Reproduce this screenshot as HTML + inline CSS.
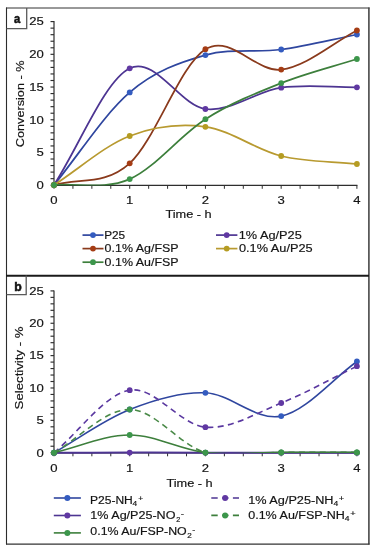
<!DOCTYPE html><html><head><meta charset="utf-8"><style>html,body{margin:0;padding:0;background:#fff;}svg{display:block;}text{font-family:"Liberation Sans", sans-serif;filter:grayscale(1);stroke:#141414;stroke-width:0.18px;}</style></head><body>
<svg width="376" height="550" viewBox="0 0 376 550">
<rect width="376" height="550" fill="#fff"/>
<defs><clipPath id="ca"><rect x="40" y="10" width="330" height="175.40"/></clipPath><clipPath id="cb"><rect x="40" y="280" width="330" height="173.10"/></clipPath></defs>
<line x1="50.5" y1="185.20" x2="54" y2="185.20" stroke="#2e2e2e" stroke-width="1.15"/>
<line x1="50.5" y1="178.66" x2="54" y2="178.66" stroke="#2e2e2e" stroke-width="1.15"/>
<line x1="50.5" y1="172.11" x2="54" y2="172.11" stroke="#2e2e2e" stroke-width="1.15"/>
<line x1="50.5" y1="165.57" x2="54" y2="165.57" stroke="#2e2e2e" stroke-width="1.15"/>
<line x1="50.5" y1="159.02" x2="54" y2="159.02" stroke="#2e2e2e" stroke-width="1.15"/>
<line x1="50.5" y1="152.48" x2="54" y2="152.48" stroke="#2e2e2e" stroke-width="1.15"/>
<line x1="50.5" y1="145.94" x2="54" y2="145.94" stroke="#2e2e2e" stroke-width="1.15"/>
<line x1="50.5" y1="139.39" x2="54" y2="139.39" stroke="#2e2e2e" stroke-width="1.15"/>
<line x1="50.5" y1="132.85" x2="54" y2="132.85" stroke="#2e2e2e" stroke-width="1.15"/>
<line x1="50.5" y1="126.30" x2="54" y2="126.30" stroke="#2e2e2e" stroke-width="1.15"/>
<line x1="50.5" y1="119.76" x2="54" y2="119.76" stroke="#2e2e2e" stroke-width="1.15"/>
<line x1="50.5" y1="113.22" x2="54" y2="113.22" stroke="#2e2e2e" stroke-width="1.15"/>
<line x1="50.5" y1="106.67" x2="54" y2="106.67" stroke="#2e2e2e" stroke-width="1.15"/>
<line x1="50.5" y1="100.13" x2="54" y2="100.13" stroke="#2e2e2e" stroke-width="1.15"/>
<line x1="50.5" y1="93.58" x2="54" y2="93.58" stroke="#2e2e2e" stroke-width="1.15"/>
<line x1="50.5" y1="87.04" x2="54" y2="87.04" stroke="#2e2e2e" stroke-width="1.15"/>
<line x1="50.5" y1="80.50" x2="54" y2="80.50" stroke="#2e2e2e" stroke-width="1.15"/>
<line x1="50.5" y1="73.95" x2="54" y2="73.95" stroke="#2e2e2e" stroke-width="1.15"/>
<line x1="50.5" y1="67.41" x2="54" y2="67.41" stroke="#2e2e2e" stroke-width="1.15"/>
<line x1="50.5" y1="60.86" x2="54" y2="60.86" stroke="#2e2e2e" stroke-width="1.15"/>
<line x1="50.5" y1="54.32" x2="54" y2="54.32" stroke="#2e2e2e" stroke-width="1.15"/>
<line x1="50.5" y1="47.78" x2="54" y2="47.78" stroke="#2e2e2e" stroke-width="1.15"/>
<line x1="50.5" y1="41.23" x2="54" y2="41.23" stroke="#2e2e2e" stroke-width="1.15"/>
<line x1="50.5" y1="34.69" x2="54" y2="34.69" stroke="#2e2e2e" stroke-width="1.15"/>
<line x1="50.5" y1="28.14" x2="54" y2="28.14" stroke="#2e2e2e" stroke-width="1.15"/>
<line x1="50.5" y1="21.60" x2="54" y2="21.60" stroke="#2e2e2e" stroke-width="1.15"/>
<line x1="54.0" y1="21.10" x2="54.0" y2="185.70" stroke="#2e2e2e" stroke-width="1.2"/>
<line x1="54.00" y1="185.20" x2="54.00" y2="188.80" stroke="#2e2e2e" stroke-width="1"/>
<line x1="72.93" y1="185.20" x2="72.93" y2="188.80" stroke="#2e2e2e" stroke-width="1"/>
<line x1="91.86" y1="185.20" x2="91.86" y2="188.80" stroke="#2e2e2e" stroke-width="1"/>
<line x1="110.79" y1="185.20" x2="110.79" y2="188.80" stroke="#2e2e2e" stroke-width="1"/>
<line x1="129.72" y1="185.20" x2="129.72" y2="188.80" stroke="#2e2e2e" stroke-width="1"/>
<line x1="148.66" y1="185.20" x2="148.66" y2="188.80" stroke="#2e2e2e" stroke-width="1"/>
<line x1="167.59" y1="185.20" x2="167.59" y2="188.80" stroke="#2e2e2e" stroke-width="1"/>
<line x1="186.52" y1="185.20" x2="186.52" y2="188.80" stroke="#2e2e2e" stroke-width="1"/>
<line x1="205.45" y1="185.20" x2="205.45" y2="188.80" stroke="#2e2e2e" stroke-width="1"/>
<line x1="224.38" y1="185.20" x2="224.38" y2="188.80" stroke="#2e2e2e" stroke-width="1"/>
<line x1="243.31" y1="185.20" x2="243.31" y2="188.80" stroke="#2e2e2e" stroke-width="1"/>
<line x1="262.24" y1="185.20" x2="262.24" y2="188.80" stroke="#2e2e2e" stroke-width="1"/>
<line x1="281.17" y1="185.20" x2="281.17" y2="188.80" stroke="#2e2e2e" stroke-width="1"/>
<line x1="300.11" y1="185.20" x2="300.11" y2="188.80" stroke="#2e2e2e" stroke-width="1"/>
<line x1="319.04" y1="185.20" x2="319.04" y2="188.80" stroke="#2e2e2e" stroke-width="1"/>
<line x1="337.97" y1="185.20" x2="337.97" y2="188.80" stroke="#2e2e2e" stroke-width="1"/>
<line x1="356.90" y1="185.20" x2="356.90" y2="188.80" stroke="#2e2e2e" stroke-width="1"/>
<line x1="53" y1="185.40" x2="357.40" y2="185.40" stroke="#2e2e2e" stroke-width="1.1"/>
<text transform="translate(36.424,189.000) scale(1.1200,1)" font-size="11.7" fill="#141414">0</text>
<text transform="translate(36.462,156.280) scale(1.1200,1)" font-size="11.7" fill="#141414">5</text>
<text transform="translate(29.136,123.560) scale(1.1200,1)" font-size="11.7" fill="#141414">10</text>
<text transform="translate(29.175,90.840) scale(1.1200,1)" font-size="11.7" fill="#141414">15</text>
<text transform="translate(29.136,58.120) scale(1.1200,1)" font-size="11.7" fill="#141414">20</text>
<text transform="translate(29.175,25.400) scale(1.1200,1)" font-size="11.7" fill="#141414">25</text>
<text transform="translate(50.356,203.800) scale(1.1200,1)" font-size="11.7" fill="#141414">0</text>
<text transform="translate(125.877,203.800) scale(1.1200,1)" font-size="11.7" fill="#141414">1</text>
<text transform="translate(201.756,203.800) scale(1.1200,1)" font-size="11.7" fill="#141414">2</text>
<text transform="translate(277.594,203.800) scale(1.1200,1)" font-size="11.7" fill="#141414">3</text>
<text transform="translate(353.298,203.800) scale(1.1200,1)" font-size="11.7" fill="#141414">4</text>
<text transform="translate(165.413,217.700) scale(1.0912,1)" font-size="11.7" fill="#141414">Time - h</text>
<text transform="translate(23.500,146.500) rotate(-90) translate(-0.645,0) scale(1.0852,1)" font-size="11.7" fill="#141414">Conversion - %</text>
<path d="M54.00,185.00 C79.23,154.13 104.47,114.05 129.70,92.40 C154.93,70.75 180.15,62.25 205.40,55.10 C230.65,47.95 255.95,52.93 281.20,49.50 C306.45,46.07 331.67,39.50 356.90,34.50" fill="none" stroke="#2f469f" stroke-width="1.75" clip-path="url(#ca)"/>
<circle cx="54.00" cy="185.00" r="2.9" fill="#345cc0"/>
<circle cx="129.70" cy="92.40" r="2.9" fill="#345cc0"/>
<circle cx="205.40" cy="55.10" r="2.9" fill="#345cc0"/>
<circle cx="281.20" cy="49.50" r="2.9" fill="#345cc0"/>
<circle cx="356.90" cy="34.50" r="2.9" fill="#345cc0"/>
<path d="M54.00,185.00 C79.23,146.10 104.47,80.97 129.70,68.30 C154.93,55.63 180.15,105.77 205.40,109.00 C230.65,112.23 255.95,91.32 281.20,87.70 C306.45,84.08 331.67,87.43 356.90,87.30" fill="none" stroke="#4d3592" stroke-width="1.75" clip-path="url(#ca)"/>
<circle cx="54.00" cy="185.00" r="2.9" fill="#6038a2"/>
<circle cx="129.70" cy="68.30" r="2.9" fill="#6038a2"/>
<circle cx="205.40" cy="109.00" r="2.9" fill="#6038a2"/>
<circle cx="281.20" cy="87.70" r="2.9" fill="#6038a2"/>
<circle cx="356.90" cy="87.30" r="2.9" fill="#6038a2"/>
<path d="M54.00,185.00 C79.23,177.77 104.47,185.93 129.70,163.30 C154.93,140.67 180.15,64.82 205.40,49.20 C230.65,33.58 255.95,72.72 281.20,69.60 C306.45,66.48 331.67,43.53 356.90,30.50" fill="none" stroke="#8a3a1c" stroke-width="1.75" clip-path="url(#ca)"/>
<circle cx="54.00" cy="185.00" r="2.9" fill="#a53c14"/>
<circle cx="129.70" cy="163.30" r="2.9" fill="#a53c14"/>
<circle cx="205.40" cy="49.20" r="2.9" fill="#a53c14"/>
<circle cx="281.20" cy="69.60" r="2.9" fill="#a53c14"/>
<circle cx="356.90" cy="30.50" r="2.9" fill="#a53c14"/>
<path d="M54.00,185.00 C79.23,168.67 104.47,145.70 129.70,136.00 C154.93,126.30 180.15,123.47 205.40,126.80 C230.65,130.13 255.95,149.80 281.20,156.00 C306.45,162.20 331.67,161.33 356.90,164.00" fill="none" stroke="#b89a30" stroke-width="1.75" clip-path="url(#ca)"/>
<circle cx="54.00" cy="185.00" r="2.9" fill="#b59c22"/>
<circle cx="129.70" cy="136.00" r="2.9" fill="#b59c22"/>
<circle cx="205.40" cy="126.80" r="2.9" fill="#b59c22"/>
<circle cx="281.20" cy="156.00" r="2.9" fill="#b59c22"/>
<circle cx="356.90" cy="164.00" r="2.9" fill="#b59c22"/>
<path d="M54.00,185.00 C79.23,183.03 104.47,190.07 129.70,179.10 C154.93,168.13 180.15,135.20 205.40,119.20 C230.65,103.20 255.95,93.13 281.20,83.10 C306.45,73.07 331.67,67.03 356.90,59.00" fill="none" stroke="#3d7f3c" stroke-width="1.75" clip-path="url(#ca)"/>
<circle cx="54.00" cy="185.00" r="2.9" fill="#3c964b"/>
<circle cx="129.70" cy="179.10" r="2.9" fill="#3c964b"/>
<circle cx="205.40" cy="119.20" r="2.9" fill="#3c964b"/>
<circle cx="281.20" cy="83.10" r="2.9" fill="#3c964b"/>
<circle cx="356.90" cy="59.00" r="2.9" fill="#3c964b"/>
<line x1="82.50" y1="235.10" x2="103.50" y2="235.10" stroke="#2f469f" stroke-width="1.7"/>
<circle cx="93.00" cy="235.10" r="2.9" fill="#345cc0"/>
<line x1="82.50" y1="248.60" x2="103.50" y2="248.60" stroke="#8a3a1c" stroke-width="1.7"/>
<circle cx="93.00" cy="248.60" r="2.9" fill="#a53c14"/>
<line x1="82.50" y1="262.20" x2="103.50" y2="262.20" stroke="#3d7f3c" stroke-width="1.7"/>
<circle cx="93.00" cy="262.20" r="2.9" fill="#3c964b"/>
<line x1="216.00" y1="235.10" x2="237.40" y2="235.10" stroke="#4d3592" stroke-width="1.7"/>
<circle cx="226.70" cy="235.10" r="2.9" fill="#6038a2"/>
<line x1="216.00" y1="248.60" x2="237.40" y2="248.60" stroke="#b89a30" stroke-width="1.7"/>
<circle cx="226.70" cy="248.60" r="2.9" fill="#b59c22"/>
<text transform="translate(104.129,238.700) scale(1.0120,1)" font-size="11.7" fill="#141414">P25</text>
<text transform="translate(104.614,252.300) scale(1.0642,1)" font-size="11.7" fill="#141414">0.1% Ag/FSP</text>
<text transform="translate(104.614,265.900) scale(1.0642,1)" font-size="11.7" fill="#141414">0.1% Au/FSP</text>
<text transform="translate(238.729,238.700) scale(1.0900,1)" font-size="11.7" fill="#141414">1% Ag/P25</text>
<text transform="translate(239.002,252.300) scale(1.0898,1)" font-size="11.7" fill="#141414">0.1% Au/P25</text>
<line x1="50.5" y1="452.70" x2="54" y2="452.70" stroke="#2e2e2e" stroke-width="1.15"/>
<line x1="50.5" y1="446.23" x2="54" y2="446.23" stroke="#2e2e2e" stroke-width="1.15"/>
<line x1="50.5" y1="439.76" x2="54" y2="439.76" stroke="#2e2e2e" stroke-width="1.15"/>
<line x1="50.5" y1="433.28" x2="54" y2="433.28" stroke="#2e2e2e" stroke-width="1.15"/>
<line x1="50.5" y1="426.81" x2="54" y2="426.81" stroke="#2e2e2e" stroke-width="1.15"/>
<line x1="50.5" y1="420.34" x2="54" y2="420.34" stroke="#2e2e2e" stroke-width="1.15"/>
<line x1="50.5" y1="413.87" x2="54" y2="413.87" stroke="#2e2e2e" stroke-width="1.15"/>
<line x1="50.5" y1="407.40" x2="54" y2="407.40" stroke="#2e2e2e" stroke-width="1.15"/>
<line x1="50.5" y1="400.92" x2="54" y2="400.92" stroke="#2e2e2e" stroke-width="1.15"/>
<line x1="50.5" y1="394.45" x2="54" y2="394.45" stroke="#2e2e2e" stroke-width="1.15"/>
<line x1="50.5" y1="387.98" x2="54" y2="387.98" stroke="#2e2e2e" stroke-width="1.15"/>
<line x1="50.5" y1="381.51" x2="54" y2="381.51" stroke="#2e2e2e" stroke-width="1.15"/>
<line x1="50.5" y1="375.04" x2="54" y2="375.04" stroke="#2e2e2e" stroke-width="1.15"/>
<line x1="50.5" y1="368.56" x2="54" y2="368.56" stroke="#2e2e2e" stroke-width="1.15"/>
<line x1="50.5" y1="362.09" x2="54" y2="362.09" stroke="#2e2e2e" stroke-width="1.15"/>
<line x1="50.5" y1="355.62" x2="54" y2="355.62" stroke="#2e2e2e" stroke-width="1.15"/>
<line x1="50.5" y1="349.15" x2="54" y2="349.15" stroke="#2e2e2e" stroke-width="1.15"/>
<line x1="50.5" y1="342.68" x2="54" y2="342.68" stroke="#2e2e2e" stroke-width="1.15"/>
<line x1="50.5" y1="336.20" x2="54" y2="336.20" stroke="#2e2e2e" stroke-width="1.15"/>
<line x1="50.5" y1="329.73" x2="54" y2="329.73" stroke="#2e2e2e" stroke-width="1.15"/>
<line x1="50.5" y1="323.26" x2="54" y2="323.26" stroke="#2e2e2e" stroke-width="1.15"/>
<line x1="50.5" y1="316.79" x2="54" y2="316.79" stroke="#2e2e2e" stroke-width="1.15"/>
<line x1="50.5" y1="310.32" x2="54" y2="310.32" stroke="#2e2e2e" stroke-width="1.15"/>
<line x1="50.5" y1="303.84" x2="54" y2="303.84" stroke="#2e2e2e" stroke-width="1.15"/>
<line x1="50.5" y1="297.37" x2="54" y2="297.37" stroke="#2e2e2e" stroke-width="1.15"/>
<line x1="50.5" y1="290.90" x2="54" y2="290.90" stroke="#2e2e2e" stroke-width="1.15"/>
<line x1="54.0" y1="290.40" x2="54.0" y2="453.20" stroke="#2e2e2e" stroke-width="1.2"/>
<line x1="54.00" y1="452.70" x2="54.00" y2="456.30" stroke="#2e2e2e" stroke-width="1"/>
<line x1="72.93" y1="452.70" x2="72.93" y2="456.30" stroke="#2e2e2e" stroke-width="1"/>
<line x1="91.86" y1="452.70" x2="91.86" y2="456.30" stroke="#2e2e2e" stroke-width="1"/>
<line x1="110.79" y1="452.70" x2="110.79" y2="456.30" stroke="#2e2e2e" stroke-width="1"/>
<line x1="129.72" y1="452.70" x2="129.72" y2="456.30" stroke="#2e2e2e" stroke-width="1"/>
<line x1="148.66" y1="452.70" x2="148.66" y2="456.30" stroke="#2e2e2e" stroke-width="1"/>
<line x1="167.59" y1="452.70" x2="167.59" y2="456.30" stroke="#2e2e2e" stroke-width="1"/>
<line x1="186.52" y1="452.70" x2="186.52" y2="456.30" stroke="#2e2e2e" stroke-width="1"/>
<line x1="205.45" y1="452.70" x2="205.45" y2="456.30" stroke="#2e2e2e" stroke-width="1"/>
<line x1="224.38" y1="452.70" x2="224.38" y2="456.30" stroke="#2e2e2e" stroke-width="1"/>
<line x1="243.31" y1="452.70" x2="243.31" y2="456.30" stroke="#2e2e2e" stroke-width="1"/>
<line x1="262.24" y1="452.70" x2="262.24" y2="456.30" stroke="#2e2e2e" stroke-width="1"/>
<line x1="281.17" y1="452.70" x2="281.17" y2="456.30" stroke="#2e2e2e" stroke-width="1"/>
<line x1="300.11" y1="452.70" x2="300.11" y2="456.30" stroke="#2e2e2e" stroke-width="1"/>
<line x1="319.04" y1="452.70" x2="319.04" y2="456.30" stroke="#2e2e2e" stroke-width="1"/>
<line x1="337.97" y1="452.70" x2="337.97" y2="456.30" stroke="#2e2e2e" stroke-width="1"/>
<line x1="356.90" y1="452.70" x2="356.90" y2="456.30" stroke="#2e2e2e" stroke-width="1"/>
<line x1="53" y1="452.90" x2="357.40" y2="452.90" stroke="#2e2e2e" stroke-width="1.1"/>
<text transform="translate(36.424,456.500) scale(1.1200,1)" font-size="11.7" fill="#141414">0</text>
<text transform="translate(36.462,424.140) scale(1.1200,1)" font-size="11.7" fill="#141414">5</text>
<text transform="translate(29.136,391.780) scale(1.1200,1)" font-size="11.7" fill="#141414">10</text>
<text transform="translate(29.175,359.420) scale(1.1200,1)" font-size="11.7" fill="#141414">15</text>
<text transform="translate(29.136,327.060) scale(1.1200,1)" font-size="11.7" fill="#141414">20</text>
<text transform="translate(29.175,294.700) scale(1.1200,1)" font-size="11.7" fill="#141414">25</text>
<text transform="translate(50.356,471.800) scale(1.1200,1)" font-size="11.7" fill="#141414">0</text>
<text transform="translate(125.877,471.800) scale(1.1200,1)" font-size="11.7" fill="#141414">1</text>
<text transform="translate(201.756,471.800) scale(1.1200,1)" font-size="11.7" fill="#141414">2</text>
<text transform="translate(277.594,471.800) scale(1.1200,1)" font-size="11.7" fill="#141414">3</text>
<text transform="translate(353.298,471.800) scale(1.1200,1)" font-size="11.7" fill="#141414">4</text>
<text transform="translate(166.413,487.100) scale(1.0912,1)" font-size="11.7" fill="#141414">Time - h</text>
<text transform="translate(22.700,408.800) rotate(-90) translate(-0.601,0) scale(1.1307,1)" font-size="11.7" fill="#141414">Selectivity - %</text>
<path d="M54.00,452.70 C79.23,438.30 104.47,419.48 129.70,409.50 C154.93,399.52 180.15,391.70 205.40,392.80 C230.65,393.90 255.95,421.32 281.20,416.10 C306.45,410.88 331.67,379.70 356.90,361.50" fill="none" stroke="#2f469f" stroke-width="1.6" clip-path="url(#cb)"/>
<circle cx="54.00" cy="452.70" r="2.9" fill="#345cc0"/>
<circle cx="129.70" cy="409.50" r="2.9" fill="#345cc0"/>
<circle cx="205.40" cy="392.80" r="2.9" fill="#345cc0"/>
<circle cx="281.20" cy="416.10" r="2.9" fill="#345cc0"/>
<circle cx="356.90" cy="361.50" r="2.9" fill="#345cc0"/>
<path d="M54.00,452.70 C79.23,431.87 104.47,394.45 129.70,390.20 C154.93,385.95 180.15,425.07 205.40,427.20 C230.65,429.33 255.95,413.17 281.20,403.00 C306.45,392.83 331.67,378.47 356.90,366.20" fill="none" stroke="#5a38a0" stroke-width="1.6" stroke-dasharray="6,4.4" clip-path="url(#cb)"/>
<circle cx="54.00" cy="452.70" r="2.9" fill="#6038a2"/>
<circle cx="129.70" cy="390.20" r="2.9" fill="#6038a2"/>
<circle cx="205.40" cy="427.20" r="2.9" fill="#6038a2"/>
<circle cx="281.20" cy="403.00" r="2.9" fill="#6038a2"/>
<circle cx="356.90" cy="366.20" r="2.9" fill="#6038a2"/>
<path d="M54.00,452.80 C79.23,452.73 104.47,452.62 129.70,452.60 C154.93,452.58 180.15,452.68 205.40,452.70 C230.65,452.72 255.95,452.70 281.20,452.70 C306.45,452.70 331.67,452.70 356.90,452.70" fill="none" stroke="#4d3592" stroke-width="2.0"/>
<circle cx="54.00" cy="452.80" r="2.9" fill="#6038a2"/>
<circle cx="129.70" cy="452.60" r="2.9" fill="#6038a2"/>
<circle cx="205.40" cy="452.70" r="2.9" fill="#6038a2"/>
<circle cx="281.20" cy="452.70" r="2.9" fill="#6038a2"/>
<circle cx="356.90" cy="452.70" r="2.9" fill="#6038a2"/>
<path d="M54.00,452.70 C79.23,438.30 104.47,409.52 129.70,409.50 C154.93,409.48 180.15,445.45 205.40,452.60 C230.65,459.75 255.95,452.43 281.20,452.40 C306.45,452.37 331.67,452.40 356.90,452.40" fill="none" stroke="#4a8a48" stroke-width="1.6" stroke-dasharray="6,4.4" clip-path="url(#cb)"/>
<circle cx="54.00" cy="452.70" r="2.9" fill="#3c964b"/>
<circle cx="129.70" cy="409.50" r="2.9" fill="#3c964b"/>
<circle cx="205.40" cy="452.60" r="2.9" fill="#3c964b"/>
<circle cx="281.20" cy="452.40" r="2.9" fill="#3c964b"/>
<circle cx="356.90" cy="452.40" r="2.9" fill="#3c964b"/>
<path d="M54.00,452.70 C79.23,446.80 104.47,435.02 129.70,435.00 C154.93,434.98 180.15,449.70 205.40,452.60 C230.65,455.50 255.95,452.43 281.20,452.40 C306.45,452.37 331.67,452.40 356.90,452.40" fill="none" stroke="#3d7f3c" stroke-width="1.6" clip-path="url(#cb)"/>
<circle cx="54.00" cy="452.70" r="2.9" fill="#3c964b"/>
<circle cx="129.70" cy="435.00" r="2.9" fill="#3c964b"/>
<circle cx="205.40" cy="452.60" r="2.9" fill="#3c964b"/>
<circle cx="281.20" cy="452.40" r="2.9" fill="#3c964b"/>
<circle cx="356.90" cy="452.40" r="2.9" fill="#3c964b"/>
<line x1="53.80" y1="498.00" x2="80.90" y2="498.00" stroke="#2f469f" stroke-width="1.6"/>
<circle cx="67.35" cy="498.00" r="3" fill="#345cc0"/>
<line x1="53.80" y1="515.50" x2="80.90" y2="515.50" stroke="#4d3592" stroke-width="1.6"/>
<circle cx="67.35" cy="515.50" r="3" fill="#6038a2"/>
<line x1="53.80" y1="532.90" x2="80.90" y2="532.90" stroke="#3d7f3c" stroke-width="1.6"/>
<circle cx="67.35" cy="532.90" r="3" fill="#3c964b"/>
<line x1="211.30" y1="498.00" x2="239.00" y2="498.00" stroke="#4d3592" stroke-width="1.6" stroke-dasharray="6.4,4.4"/>
<circle cx="225.15" cy="498.00" r="3" fill="#6038a2"/>
<line x1="211.30" y1="515.40" x2="239.00" y2="515.40" stroke="#3d7f3c" stroke-width="1.6" stroke-dasharray="6.4,4.4"/>
<circle cx="225.15" cy="515.40" r="3" fill="#3c964b"/>
<text transform="translate(89.909,503.600) scale(1.0328,1)" font-size="11.7" fill="#141414">P25-NH</text>
<text transform="translate(132.609,505.800) scale(1.0967,1)" font-size="7.6" fill="#141414">4</text>
<text transform="translate(138.188,500.900) scale(1.1104,1)" font-size="7.6" fill="#141414">+</text>
<text transform="translate(90.343,519.300) scale(1.0734,1)" font-size="11.7" fill="#141414">1% Ag/P25-NO</text>
<text transform="translate(176.236,522.400) scale(0.9531,1)" font-size="7.6" fill="#141414">2</text>
<text transform="translate(180.663,516.000) scale(1.2935,1)" font-size="7.6" fill="#141414">-</text>
<text transform="translate(90.316,534.900) scale(1.0600,1)" font-size="11.7" fill="#141414">0.1% Au/FSP-NO</text>
<text transform="translate(187.292,538.000) scale(1.0687,1)" font-size="7.6" fill="#141414">2</text>
<text transform="translate(192.300,531.800) scale(1.1857,1)" font-size="7.6" fill="#141414">-</text>
<text transform="translate(248.233,503.600) scale(1.0853,1)" font-size="11.7" fill="#141414">1% Ag/P25-NH</text>
<text transform="translate(333.604,505.600) scale(1.1228,1)" font-size="7.6" fill="#141414">4</text>
<text transform="translate(338.648,500.900) scale(1.2187,1)" font-size="7.6" fill="#141414">+</text>
<text transform="translate(248.210,518.900) scale(1.0712,1)" font-size="11.7" fill="#141414">0.1% Au/FSP-NH</text>
<text transform="translate(344.804,521.200) scale(1.1228,1)" font-size="7.6" fill="#141414">4</text>
<text transform="translate(350.148,516.300) scale(1.2187,1)" font-size="7.6" fill="#141414">+</text>
<line x1="6.5" y1="7.5" x2="6.5" y2="544.6" stroke="#2c2c2c" stroke-width="1.1"/>
<line x1="6" y1="8.0" x2="369.6" y2="8.0" stroke="#333" stroke-width="1"/>
<line x1="368.9" y1="7.5" x2="368.9" y2="544.6" stroke="#474747" stroke-width="1.6"/>
<line x1="6" y1="544.1" x2="369.6" y2="544.1" stroke="#333" stroke-width="1.2"/>
<line x1="6" y1="275.8" x2="369" y2="275.8" stroke="#1a1a1a" stroke-width="2"/>
<path d="M6.5,28.6 H26.7 V8" fill="none" stroke="#5a5a5a" stroke-width="1.3"/>
<path d="M6.5,294.6 H26.2 V275.6" fill="none" stroke="#5a5a5a" stroke-width="1.3"/>
<text transform="translate(13.920,23.150) scale(0.9377,1)" font-size="12" font-weight="bold" fill="#111" style="stroke:#111;stroke-width:0.5px">a</text>
<text transform="translate(14.139,290.550) scale(1.0085,1)" font-size="12.2" font-weight="bold" fill="#111" style="stroke:#111;stroke-width:0.5px">b</text>
</svg></body></html>
